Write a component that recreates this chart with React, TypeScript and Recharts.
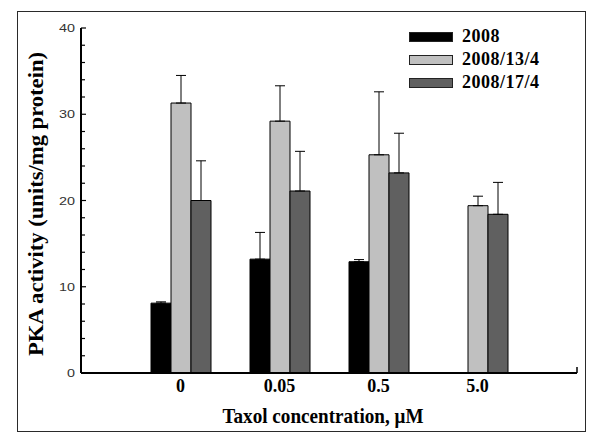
import { BarChart, Bar, XAxis, YAxis, ErrorBar, Legend, Label } from "recharts";

// PKA activity vs taxol concentration, three series with upward-only SD bars.

const doses = ["0", "0.05", "0.5", "5.0"];
const series2008 = [8.1, 13.2, 12.9, null];
const err2008 = [0.15, 3.1, 0.25, null];
const series134 = [31.3, 29.2, 25.3, 19.4];
const err134 = [3.2, 4.1, 7.3, 1.1];
const series174 = [20.0, 21.1, 23.2, 18.4];
const err174 = [4.6, 4.6, 4.6, 3.7];
const yTicks = [0, 2, 4, 6, 8, 10, 12, 14, 16, 18, 20, 22, 24, 26, 28, 30, 32, 34, 36, 38, 40];

const data = doses.map((dose, i) => ({
  dose,
  a: series2008[i],
  aErr: err2008[i] == null ? null : [0, err2008[i]],
  b: series134[i],
  bErr: [0, err134[i]],
  c: series174[i],
  cErr: [0, err174[i]],
}));

const serif = "'Liberation Serif', 'Times New Roman', serif";

function YTick({ x, y, payload }: any) {
  const v = payload.value;
  const major = v % 10 === 0;
  const label = String(v);
  return (
    <g>
      <line x1={x + 6} x2={x + 6 + (major ? 5 : 4)} y1={y} y2={y} stroke="#000" strokeWidth={1.2} />
      {major && (
        <text
          x={x}
          y={y + 4}
          textAnchor="end"
          fontFamily="'Liberation Sans', Arial, sans-serif"
          fontSize={11}
          fill="#333"
          textLength={8 * label.length}
          lengthAdjust="spacingAndGlyphs"
        >
          {label}
        </text>
      )}
    </g>
  );
}

function LegendBox({ payload }: any) {
  return (
    <div style={{ width: 170 }}>
      {(payload || []).map((p: any) => (
        <div key={p.value} style={{ display: "flex", alignItems: "center", height: 23 }}>
          <div
            style={{
              width: 44,
              height: 10,
              flexShrink: 0,
              background: p.color,
              border: "1px solid #222",
              boxSizing: "border-box",
            }}
          />
          <span
            style={{
              marginLeft: 9,
              whiteSpace: "nowrap",
              fontFamily: serif,
              fontWeight: "bold",
              fontSize: 18,
              letterSpacing: 0.5,
              color: "#000",
            }}
          >
            {p.value}
          </span>
        </div>
      ))}
    </div>
  );
}

export default function App() {
  return (
    <div style={{ position: "absolute", left: 0, top: 0, width: 600, height: 442, background: "#fff" }}>
      <div
        style={{
          position: "absolute",
          left: 17,
          top: 11,
          width: 569,
          height: 421,
          border: "1.5px solid #2a2a2a",
          boxSizing: "border-box",
        }}
      />
      <BarChart
        width={600}
        height={442}
        data={data}
        margin={{ top: 28, right: 23, bottom: 0, left: 0 }}
        barSize={20}
        barGap={0}
      >
        <XAxis
          dataKey="dose"
          height={69}
          padding={{ left: 50, right: 50 }}
          tickLine={false}
          tickSize={0}
          tickMargin={6}
          axisLine={{ stroke: "#000", strokeWidth: 2 }}
          tick={{ fontFamily: serif, fontWeight: "bold", fontSize: 18, fill: "#000" }}
        >
          <Label
            content={({ viewBox }: any) => (
              <g>
                <line
                  x1={viewBox.x + viewBox.width}
                  x2={viewBox.x + viewBox.width}
                  y1={viewBox.y}
                  y2={viewBox.y - 6}
                  stroke="#000"
                  strokeWidth={1.5}
                />
                <text
                  x={viewBox.x + viewBox.width / 2 - 6}
                  y={viewBox.y + 50}
                  textAnchor="middle"
                  fontFamily={serif}
                  fontWeight="bold"
                  fontSize={21}
                  fill="#000"
                  textLength={201}
                  lengthAdjust="spacingAndGlyphs"
                >
                  Taxol concentration, μM
                </text>
              </g>
            )}
          />
        </XAxis>
        <YAxis
          width={81}
          domain={[0, 40]}
          ticks={yTicks}
          interval={0}
          tickSize={0}
          tickMargin={6}
          tickLine={false}
          axisLine={{ stroke: "#000", strokeWidth: 2 }}
          tick={<YTick />}
        >
          <Label
            content={({ viewBox }: any) => {
              const cx = 43;
              const cy = viewBox.y + 176;
              return (
                <text
                  x={cx}
                  y={cy}
                  transform={`rotate(-90, ${cx}, ${cy})`}
                  textAnchor="middle"
                  fontFamily={serif}
                  fontWeight="bold"
                  fontSize={21}
                  fill="#000"
                  textLength={304}
                  lengthAdjust="spacingAndGlyphs"
                >
                  PKA activity (units/mg protein)
                </text>
              );
            }}
          />
        </YAxis>
        <Legend
          verticalAlign="middle"
          align="center"
          layout="vertical"
          content={<LegendBox />}
          wrapperStyle={{ left: 409, top: 25, width: 170, height: 70 }}
        />
        <Bar dataKey="a" name="2008" fill="#000" stroke="#000" strokeWidth={1} isAnimationActive={false}>
          <ErrorBar dataKey="aErr" width={5} stroke="#000" strokeWidth={1} direction="y" />
        </Bar>
        <Bar dataKey="b" name="2008/13/4" fill="#c0c0c0" stroke="#000" strokeWidth={1} isAnimationActive={false}>
          <ErrorBar dataKey="bErr" width={5} stroke="#000" strokeWidth={1} direction="y" />
        </Bar>
        <Bar dataKey="c" name="2008/17/4" fill="#606060" stroke="#000" strokeWidth={1} isAnimationActive={false}>
          <ErrorBar dataKey="cErr" width={5} stroke="#000" strokeWidth={1} direction="y" />
        </Bar>
      </BarChart>
    </div>
  );
}
